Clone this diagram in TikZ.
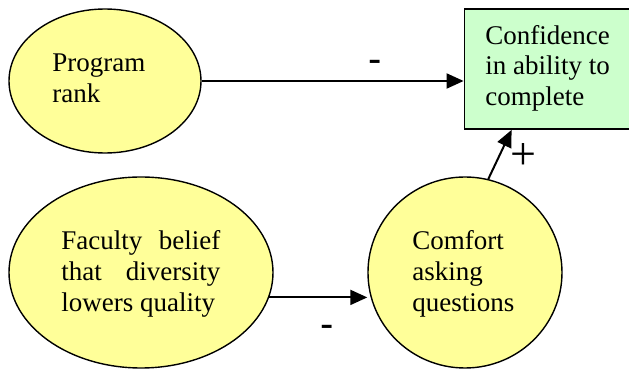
\documentclass[tikz,border=0pt]{standalone}
\usepackage{fontspec}
\setmainfont{Liberation Serif}
\newfontfamily\signfont{Liberation Sans}
\usetikzlibrary{arrows.meta,calc,shapes.geometric}
\definecolor{yel}{HTML}{FFFF99}
\definecolor{grn}{HTML}{CCFFCC}
\tikzset{
  oval/.style={ellipse,draw=black,line width=0.7pt,fill=yel,inner sep=0pt},
  goalbox/.style={rectangle,draw=black,line width=0.9pt,fill=grn,inner sep=0pt},
  txt/.style={anchor=base west,inner sep=0pt,font=\fontsize{13.5}{15.3}\selectfont},
  sign/.style={anchor=base,inner sep=0pt,font=\signfont\fontsize{20}{24}\selectfont},
  bigsign/.style={anchor=base,inner sep=0pt,font=\fontsize{23}{26}\selectfont},
  arr/.style={line width=1pt,-{Triangle[length=8.5pt,width=7.5pt]}}
}
\begin{document}
\begin{tikzpicture}[x=0.5pt,y=-0.5pt]
\clip (0,0) rectangle (629,369);
\fill[white] (0,0) rectangle (629,369);
% nodes
\node[oval,minimum width=96pt,minimum height=72pt] (pr) at (105,81) {};
\node[goalbox,minimum width=107.75pt,minimum height=60pt] (goal) at (572.25,69) {};
\node[oval,minimum width=132pt,minimum height=95.5pt] (fac) at (141,272.5) {};
\node[oval,minimum width=97pt,minimum height=95.5pt] (comf) at (465,272.5) {};
% texts
\node[txt] (prtxt) at (52,72) {\parbox[t]{60pt}{\raggedright Program\\rank}};
\node[txt] (goaltxt) at (485,44.3) {\parbox[t]{80pt}{\raggedright Confidence\\in ability to\\complete}};
\node[txt] (factxt) at (61,250) {\parbox[t]{79.5pt}{\makebox[79.5pt][s]{Faculty\hfill belief}\\\makebox[79.5pt][s]{that\hfill diversity}\\lowers quality}};
\node[txt] (comftxt) at (412,250) {\parbox[t]{60pt}{\raggedright Comfort\\asking\\questions}};
% connectors
\coordinate (goalin) at ($(goal.south west)+(48,0)$);
\draw[arr] (pr.east) -- (pr.east -| goal.west);
\draw[arr] (fac.-11) -- (fac.-11 -| comf.west);
\draw[arr] (comf.76) -- (goalin);
% signs
\node[sign] (s1) at (375,73) {-};
\node[sign] (s2) at (327,338) {-};
\node[bigsign] (s3) at (523,170) {+};
\end{tikzpicture}
\end{document}
